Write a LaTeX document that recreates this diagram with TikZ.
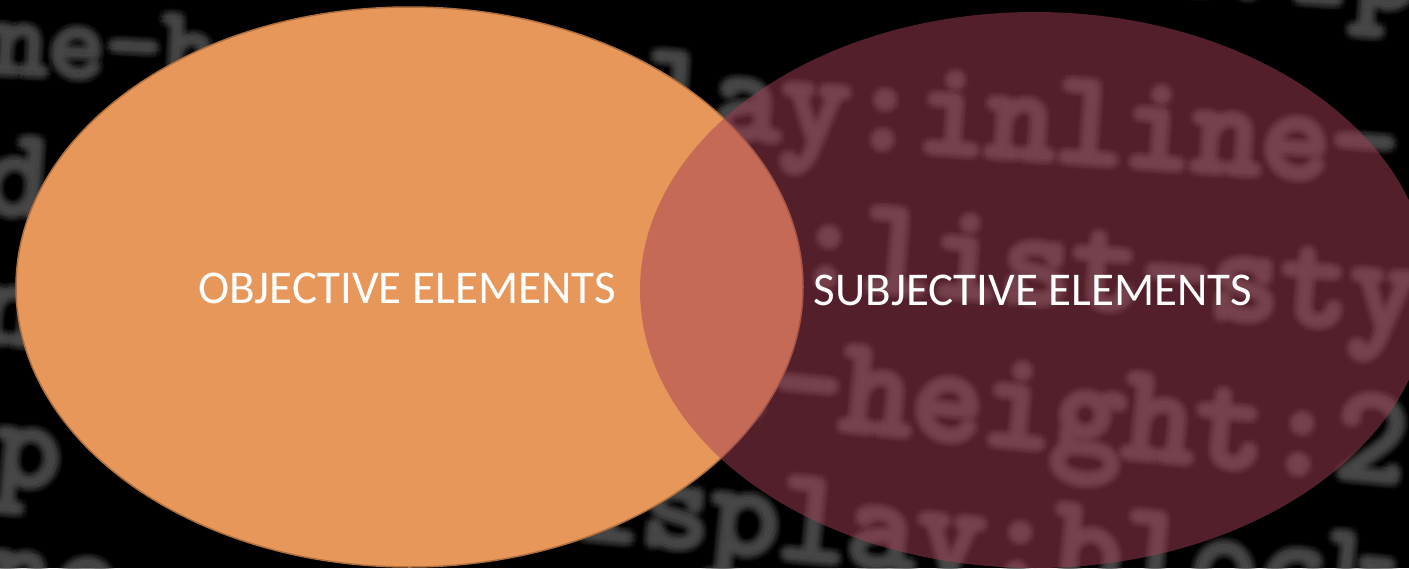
\documentclass[tikz,border=0pt]{standalone}
\usepackage{fontspec}
\setmainfont{Carlito}
\newfontfamily\codefont{lmmono10-regular.otf}[FakeBold=2.5]
\usetikzlibrary{shapes.geometric}

\definecolor{codegrey}{HTML}{5A5A5A}
\definecolor{objorange}{HTML}{E8975A}
\definecolor{objedge}{HTML}{AE6E3E}
\definecolor{subjred}{RGB}{164,62,84}

\tikzset{
  codetext/.style={text=codegrey, text opacity=0.085, inner sep=0pt, anchor=base west},
  vennset/.style={ellipse, inner sep=0pt, outer sep=0pt},
  vennlabel/.style={text=white, font=\fontsize{47pt}{47pt}\selectfont, inner sep=0pt, anchor=base}
}

% a soft, out-of-focus line of code: faint copies on two rings around one point
% #1 name, #2 x, #3 y (baseline start), #4 angle, #5 font size (pt), #6 text
\newcommand\codefrag[6]{%
  \foreach \dx/\dy [count=\k] in {0/0,
      3/0,-3/0,0/3,0/-3,2/2,-2/2,2/-2,-2/-2,
      6/0,-6/0,0/6,0/-6,4.5/4.5,-4.5/4.5,4.5/-4.5,-4.5/-4.5}{%
    \node[codetext, rotate=#4, font=\codefont\fontsize{#5pt}{#5pt}\selectfont]
      (#1-\k) at (#2+\dx,#3+\dy) {#6};}}

\begin{document}
\begin{tikzpicture}[x=1pt,y=-1pt]
  \fill[black] (0,0) rectangle (1409,568);
  \useasboundingbox (0,0) rectangle (1409,568);

  % blurred code in the background
  \codefrag{fa}{-10}{72}{-3}{108}{ne-h}
  \codefrag{fb}{641.5}{131}{-4}{131}{lay:inline-}
  \codefrag{fc}{790}{283}{-4.5}{133}{:list-sty}
  \codefrag{fd}{697.5}{415}{-5.5}{135}{e-height:2}
  \codefrag{fe}{570.5}{536}{-5.7}{131}{isplay:block}
  \codefrag{ff}{1075.5}{-15}{-4}{131}{ex:1p}
  \codefrag{fg}{-18}{212}{-4}{125}{d}
  \codefrag{fh}{-25}{340}{-5}{125}{n}
  \codefrag{fi}{-8}{482}{-5.5}{125}{p}
  \codefrag{fj}{-15}{605}{-5.5}{125}{ne}

  % the two sets
  \node[vennset, minimum width=787pt, minimum height=560pt,
        fill=objorange, draw=objedge, line width=1.5pt] (objective) at (409.5,287) {};
  \node[vennset, minimum width=790pt, minimum height=556pt,
        fill=subjred, fill opacity=0.5] (subjective) at (1035,290) {};

  \node[vennlabel] (objlabel) at (407,303) {OBJECTIVE ELEMENTS};
  \node[vennlabel] (subjlabel) at (1033,305) {SUBJECTIVE ELEMENTS};
\end{tikzpicture}
\end{document}
